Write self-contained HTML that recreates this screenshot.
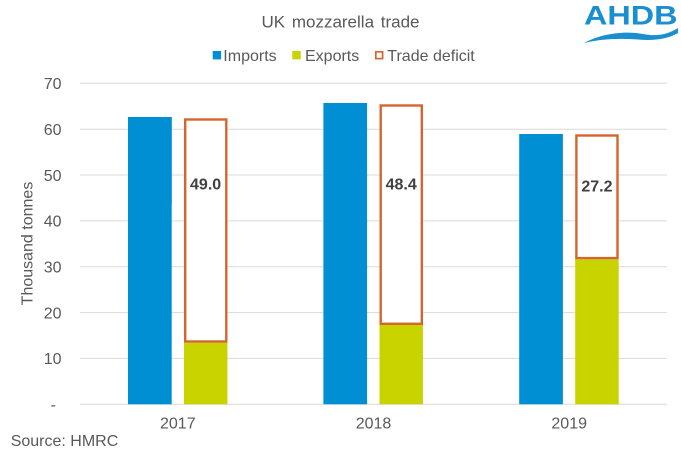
<!DOCTYPE html>
<html><head><meta charset="utf-8"><style>
html,body{margin:0;padding:0;background:#fff;}
svg{display:block;font-family:"Liberation Sans",Arial,sans-serif;}
</style></head><body>
<svg width="681" height="454" viewBox="0 0 681 454" xmlns="http://www.w3.org/2000/svg">
<rect width="681" height="454" fill="#fff"/>
<!-- title -->
<text x="340.5" y="27.3" text-anchor="middle" font-size="17" fill="#595959" word-spacing="2">UK mozzarella trade</text>
<!-- logo -->
<text x="584" y="24.5" font-size="27" font-weight="bold" fill="#1a8fd0" textLength="93.5" lengthAdjust="spacingAndGlyphs">AHDB</text>
<path d="M584,43 C598,35 622,30 643,34 C658,37 668,34 678,28 L678,33 C668,39 654,41 638,39.5 C618,38 600,39 584,43 Z" fill="#1a8fd0"/>
<!-- legend -->
<rect x="212.7" y="51" width="8.4" height="8.4" fill="#008fd3"/>
<text x="223.3" y="61" font-size="16" fill="#595959">Imports</text>
<rect x="292.3" y="51" width="8.4" height="8.4" fill="#c9d300"/>
<text x="305" y="61" font-size="16" fill="#595959">Exports</text>
<rect x="375.8" y="51.8" width="6.8" height="6.8" fill="#fff" stroke="#d5652d" stroke-width="1.7"/>
<text x="387.3" y="61" font-size="16" fill="#595959">Trade deficit</text>
<!-- gridlines -->
<g stroke="#d9d9d9" stroke-width="1">
<line x1="80" x2="667" y1="83.3" y2="83.3"/>
<line x1="80" x2="667" y1="129.2" y2="129.2"/>
<line x1="80" x2="667" y1="175" y2="175"/>
<line x1="80" x2="667" y1="220.9" y2="220.9"/>
<line x1="80" x2="667" y1="266.7" y2="266.7"/>
<line x1="80" x2="667" y1="312.6" y2="312.6"/>
<line x1="80" x2="667" y1="358.4" y2="358.4"/>
<line x1="80" x2="667" y1="404.3" y2="404.3"/>
</g>
<!-- y tick labels -->
<g font-size="16" fill="#595959" text-anchor="end">
<text x="61.5" y="89.1">70</text>
<text x="61.5" y="135">60</text>
<text x="61.5" y="180.8">50</text>
<text x="61.5" y="226.7">40</text>
<text x="61.5" y="272.5">30</text>
<text x="61.5" y="318.4">20</text>
<text x="61.5" y="364.2">10</text>
<text x="56" y="410.1">-</text>
</g>
<text transform="translate(32.5,243.5) rotate(-90)" text-anchor="middle" font-size="16" fill="#595959">Thousand tonnes</text>
<!-- 2017 -->
<rect x="128" y="117" width="43.7" height="87.3" fill="#008fd3"/>
<rect x="128" y="117" width="43.7" height="287.3" fill="#008fd3"/>
<rect x="184" y="342.7" width="43.5" height="61.6" fill="#c9d300"/>
<rect x="185.2" y="119.5" width="41.1" height="222" fill="#fff" stroke="#d5652d" stroke-width="2.4"/>
<text x="205.6" y="189.3" text-anchor="middle" font-size="16" font-weight="bold" fill="#404040">49.0</text>
<!-- 2018 -->
<rect x="323.4" y="103" width="43.7" height="301.3" fill="#008fd3"/>
<rect x="379.5" y="325" width="43.5" height="79.3" fill="#c9d300"/>
<rect x="380.7" y="105.5" width="41.1" height="218.3" fill="#fff" stroke="#d5652d" stroke-width="2.4"/>
<text x="401.2" y="189.5" text-anchor="middle" font-size="16" font-weight="bold" fill="#404040">48.4</text>
<!-- 2019 -->
<rect x="519.2" y="134" width="43.7" height="270.3" fill="#008fd3"/>
<rect x="575.2" y="259.3" width="43.5" height="145" fill="#c9d300"/>
<rect x="576.4" y="135.5" width="41.1" height="122.6" fill="#fff" stroke="#d5652d" stroke-width="2.4"/>
<text x="596.9" y="191.7" text-anchor="middle" font-size="16" font-weight="bold" fill="#404040">27.2</text>
<!-- x labels -->
<g font-size="16" fill="#595959" text-anchor="middle">
<text x="177.8" y="428.3">2017</text>
<text x="373.5" y="428.3">2018</text>
<text x="569.2" y="428.3">2019</text>
</g>
<text x="10.7" y="446" font-size="16" fill="#595959">Source: HMRC</text>
</svg>
</body></html>
